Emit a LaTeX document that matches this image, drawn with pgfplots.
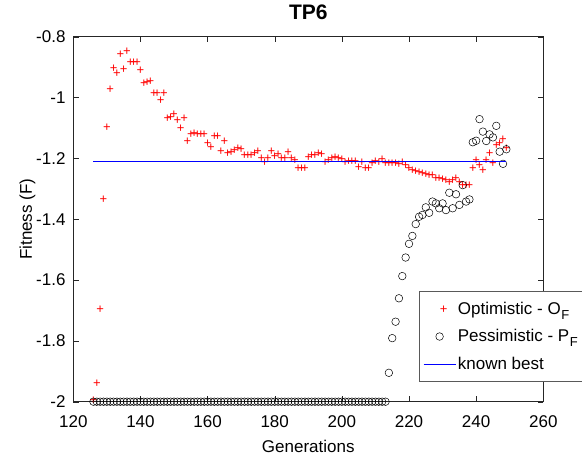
\documentclass[border=0pt]{standalone}
\usepackage{pgfplots}
\pgfplotsset{compat=1.18}
\usepackage{fontspec}
\setmainfont{Liberation Sans}

\definecolor{mred}{rgb}{1,0,0}
\definecolor{mblue}{rgb}{0,0,1}
\definecolor{axgray}{rgb}{0.15,0.15,0.15}
\newcommand{\sub}[1]{\kern0.5pt\raisebox{-0.5ex}{\fontsize{13}{13}\selectfont #1}}

\begin{document}
\begin{tikzpicture}
\begin{axis}[
    scale only axis,
    width=470pt, height=365pt,
    xmin=120, xmax=260,
    ymin=-2, ymax=-0.8,
    xtick={120,140,...,260},
    ytick={-2,-1.8,-1.6,-1.4,-1.2,-1,-0.8},
    tick pos=both,
    tick align=inside,
    major tick length=5.7pt,
    axis line style={line width=0.7pt, draw=axgray},
    every tick/.append style={draw=axgray},
    clip=false,
    /pgf/number format/assume math mode=true,
    tick label style={font=\fontsize{17}{20}\selectfont},
    xticklabel style={inner sep=0pt, anchor=north, yshift=-14pt},
    yticklabel style={inner sep=0pt, anchor=east, xshift=-7.6pt},
    title={TP6},
    title style={font=\bfseries\fontsize{21}{24}\selectfont, at={(axis description cs:0.5,1)}, anchor=base, yshift=11.7pt, inner sep=0pt},
    xlabel={Generations},
    xlabel style={font=\fontsize{17}{20}\selectfont, at={(axis description cs:0.5,0)}, anchor=base, yshift=-50.6pt, inner sep=0pt},
    ylabel={Fitness (F)},
    ylabel style={font=\fontsize{17}{20}\selectfont, at={(axis description cs:-0.0802,0.5)}, anchor=south, rotate=0, inner sep=0pt},
    legend cell align=left,
    legend image code/.code={\draw[mark repeat=2,mark phase=2,#1] plot coordinates {(0pt,0pt) (16pt,0pt) (32pt,0pt)};},
    legend style={at={(0.7355,0.3033)}, anchor=north west, line width=0.6pt, draw=black!65,
        font=\fontsize{17}{20}\selectfont, inner xsep=4pt, inner ysep=9pt, row sep=9.5pt},
]
% optimistic (plus glyph as text mark)
\addplot[only marks, mark=text, text mark={+}, text mark as node=true,
    text mark style={font=\fontsize{13}{13}\selectfont\color{mred}, text=mred, inner sep=0pt, yshift=-0.8pt}] coordinates {
(126,-1.995) (127,-1.939) (128,-1.696) (129,-1.335) (130,-1.097) (131,-0.972)
(132,-0.903) (133,-0.918) (134,-0.856) (135,-0.905) (136,-0.848) (137,-0.882)
(138,-0.882) (139,-0.882) (140,-0.909) (141,-0.953) (142,-0.948) (143,-0.945)
(144,-0.986) (145,-0.986) (146,-1.008) (147,-0.986) (148,-1.068) (149,-1.063)
(150,-1.055) (151,-1.074) (152,-1.099) (153,-1.068) (154,-1.142) (155,-1.121)
(156,-1.118) (157,-1.121) (158,-1.120) (159,-1.121) (160,-1.150) (161,-1.164)
(162,-1.125) (163,-1.125) (164,-1.177) (165,-1.142) (166,-1.181) (167,-1.179)
(168,-1.173) (169,-1.165) (170,-1.170) (171,-1.190) (172,-1.190) (173,-1.188)
(174,-1.182) (175,-1.176) (176,-1.197) (177,-1.211) (178,-1.198) (179,-1.175)
(180,-1.193) (181,-1.187) (182,-1.199) (183,-1.199) (184,-1.178) (185,-1.200)
(186,-1.205) (187,-1.233) (188,-1.233) (189,-1.233) (190,-1.194) (191,-1.189)
(192,-1.189) (193,-1.181) (194,-1.185) (195,-1.213) (196,-1.205) (197,-1.200)
(198,-1.194) (199,-1.200) (200,-1.203) (201,-1.211) (202,-1.207) (203,-1.207)
(204,-1.207) (205,-1.229) (206,-1.211) (207,-1.233) (208,-1.233) (209,-1.216)
(210,-1.207) (211,-1.211) (212,-1.203) (213,-1.216) (214,-1.214) (215,-1.216)
(216,-1.216) (217,-1.218) (218,-1.211) (219,-1.222) (220,-1.233) (221,-1.238)
(222,-1.240) (223,-1.244) (224,-1.248) (225,-1.251) (226,-1.253) (227,-1.255)
(228,-1.266) (229,-1.266) (230,-1.268) (231,-1.271) (232,-1.277) (233,-1.272)
(234,-1.266) (235,-1.277) (236,-1.288) (237,-1.288) (238,-1.288) (239,-1.233)
(240,-1.205) (241,-1.220) (242,-1.238) (243,-1.205) (244,-1.183) (245,-1.216)
(246,-1.156) (247,-1.148) (248,-1.137) (249,-1.167)
};
\addlegendentry{Optimistic - O\sub{F}}
% pessimistic
\addplot[only marks, mark=o, mark size=3.8pt, color=black, line width=0.5pt] coordinates {
(126,-2) (127,-2) (128,-2) (129,-2) (130,-2) (131,-2) (132,-2) (133,-2)
(134,-2) (135,-2) (136,-2) (137,-2) (138,-2) (139,-2) (140,-2) (141,-2)
(142,-2) (143,-2) (144,-2) (145,-2) (146,-2) (147,-2) (148,-2) (149,-2)
(150,-2) (151,-2) (152,-2) (153,-2) (154,-2) (155,-2) (156,-2) (157,-2)
(158,-2) (159,-2) (160,-2) (161,-2) (162,-2) (163,-2) (164,-2) (165,-2)
(166,-2) (167,-2) (168,-2) (169,-2) (170,-2) (171,-2) (172,-2) (173,-2)
(174,-2) (175,-2) (176,-2) (177,-2) (178,-2) (179,-2) (180,-2) (181,-2)
(182,-2) (183,-2) (184,-2) (185,-2) (186,-2) (187,-2) (188,-2) (189,-2)
(190,-2) (191,-2) (192,-2) (193,-2) (194,-2) (195,-2) (196,-2) (197,-2)
(198,-2) (199,-2) (200,-2) (201,-2) (202,-2) (203,-2) (204,-2) (205,-2)
(206,-2) (207,-2) (208,-2) (209,-2) (210,-2) (211,-2) (212,-2) (213,-2)
(214,-1.905) (215,-1.791) (216,-1.737) (217,-1.660) (218,-1.587) (219,-1.526)
(220,-1.481) (221,-1.455) (222,-1.416) (223,-1.392) (224,-1.386) (225,-1.361)
(226,-1.379) (227,-1.342) (228,-1.348) (229,-1.364) (230,-1.348) (231,-1.370)
(232,-1.313) (233,-1.364) (234,-1.318) (235,-1.353) (236,-1.288) (237,-1.342)
(238,-1.335) (239,-1.147) (240,-1.142) (241,-1.071) (242,-1.112) (243,-1.143)
(244,-1.121) (245,-1.131) (246,-1.093) (247,-1.178) (248,-1.218) (249,-1.170)
};
\addlegendentry{Pessimistic - P\sub{F}}
% known best: -1.21 from generation 126 to 249 (123 units = 412.9pt), set as a coloured rule at the midpoint
\addplot[forget plot, only marks, mark=text, text mark={\rule{412.9pt}{0.6pt}}, text mark as node=true,
    text mark style={font=\color{mblue}, text=mblue, inner sep=0pt}] coordinates {(187.5,-1.21)};
\addlegendimage{color=mblue, line width=0.6pt}
\addlegendentry{known best}
\end{axis}
\pgfresetboundingbox
\useasboundingbox (-73.3pt,-54.3pt) rectangle ++(582pt,456pt);
\end{tikzpicture}
\end{document}
